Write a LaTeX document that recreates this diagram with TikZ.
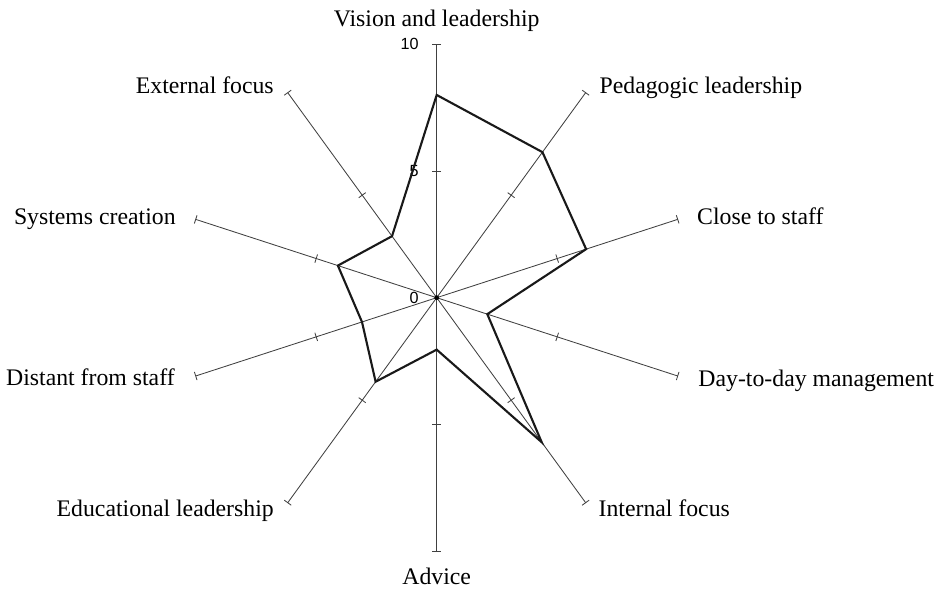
\documentclass[tikz,border=0pt]{standalone}
\usepackage{fontspec}
\setmainfont{Liberation Serif}
\newfontfamily\numfont{Liberation Sans}

\begin{document}
\begin{tikzpicture}[x=0.6335cm, y=0.6335cm,
        axis/.style={draw=black!75, line width=0.6pt},
        profile/.style={draw=black!90, line width=1.5pt},
        catlabel/.style={inner sep=0pt, font=\fontsize{16.9}{20}\selectfont},
        numlabel/.style={inner sep=0pt, anchor=east, font=\numfont\fontsize{11.5}{13}\selectfont}]
        \useasboundingbox (-17.234,-11.654) rectangle (19.941,11.748);

        % Axes, ticks at 5 and 10
        \foreach \ang in {90,54,18,-18,-54,-90,-126,-162,162,126} {
            \draw[axis] (0,0) -- (\ang:10);
            \draw[axis, rotate=\ang] (5,-0.17) -- (5,0.17) (10,-0.17) -- (10,0.17);
        }

        % Scale
        \node[numlabel] (n0) at (-0.7,0) {0};
        \node[numlabel] (n5) at (-0.7,5) {5};
        \node[numlabel] (n10) at (-0.7,10) {10};

        % Profile
        \draw[profile] (90:8) -- (54:7.1) -- (18:6.2) -- (-18:2.1) -- (-54:7.05)
            -- (-90:2.05) -- (-126:4.1) -- (-162:3.1) -- (162:4.1) -- (126:3.0) -- cycle;

        % Centre
        \filldraw (0,0) circle (0.08);

        % Category labels
        \node[catlabel, anchor=base] (vision) at (0,10.72) {Vision and leadership};
        \node[catlabel, anchor=base west] (pedagogic) at (6.42,8.07) {Pedagogic leadership};
        \node[catlabel, anchor=base west] (close) at (10.27,2.87) {Close to staff};
        \node[catlabel, anchor=base west] (daytoday) at (10.32,-3.51) {Day-to-day management};
        \node[catlabel, anchor=base west] (internal) at (6.38,-8.63) {Internal focus};
        \node[catlabel, anchor=base] (advice) at (0,-11.33) {Advice};
        \node[catlabel, anchor=base east] (educational) at (-6.42,-8.63) {Educational leadership};
        \node[catlabel, anchor=base east] (distant) at (-10.33,-3.48) {Distant from staff};
        \node[catlabel, anchor=base east] (systems) at (-10.29,2.87) {Systems creation};
        \node[catlabel, anchor=base east] (external) at (-6.42,8.07) {External focus};
\end{tikzpicture}
\end{document}
